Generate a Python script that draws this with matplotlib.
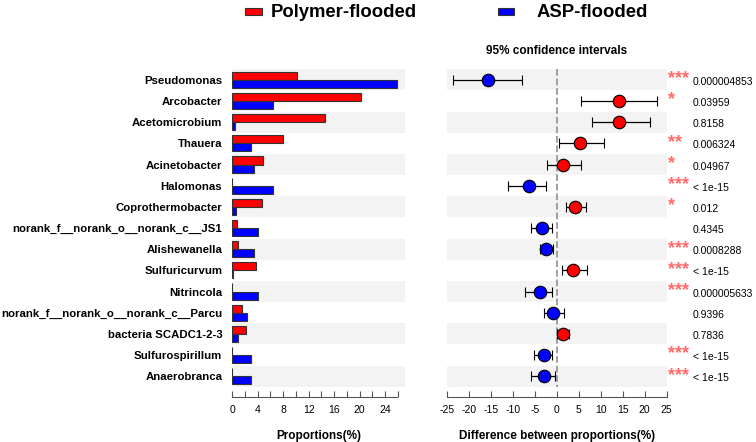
import numpy as np
import matplotlib.pyplot as plt
from matplotlib.patches import Rectangle

plt.rcParams['font.family'] = ['Liberation Sans', 'DejaVu Sans']
plt.rcParams['axes.unicode_minus'] = False

# 数据
genera = ['Pseudomonas', 'Arcobacter', 'Acetomicrobium', 'Thauera', 'Acinetobacter',
          'Halomonas', 'Coprothermobacter', 'norank_f__norank_o__norank_c__JS1',
          'Alishewanella', 'Sulfuricurvum', 'Nitrincola',
          'norank_f__norank_o__norank_c__Parcu', 'bacteria SCADC1-2-3',
          'Sulfurospirillum', 'Anaerobranca']
polymer = [10.2, 20.2, 14.5, 8.0, 4.8, 0.0, 4.7, 0.8, 1.0, 3.8, 0.0, 1.5, 2.2, 0.0, 0.0]
asp = [25.8, 6.4, 0.5, 2.9, 3.4, 6.4, 0.6, 4.1, 3.4, 0.2, 4.0, 2.4, 1.0, 2.9, 2.9]
diff = [-15.7, 14.1, 14.2, 5.2, 1.4, -6.2, 4.1, -3.3, -2.4, 3.6, -3.9, -0.9, 1.4, -2.9, -2.9]
ci_low = [-23.5, 5.6, 8.0, 0.45, -2.3, -11.0, 2.0, -5.9, -3.9, 1.1, -7.3, -3.0, 0.1, -5.2, -5.9]
ci_high = [-8.0, 22.8, 21.2, 10.7, 5.6, -2.4, 6.7, -1.1, -0.8, 6.9, -1.1, 1.7, 2.9, -1.0, -0.5]
stars = ['***', '*', '', '**', '*', '***', '*', '', '***', '***', '***', '', '', '***', '***']
pvals = ['0.000004853', '0.03959', '0.8158', '0.006324', '0.04967', '< 1e-15', '0.012',
         '0.4345', '0.0008288', '< 1e-15', '0.000005633', '0.9396', '0.7836',
         '< 1e-15', '< 1e-15']

red = '#ff0000'
blue = '#0000ff'
stripe = '#f3f3f3'

W, H = 756, 442
fig = plt.figure(figsize=(W / 100, H / 100), dpi=100)

top = 1 - 69.3 / H
bottom = 1 - 396.7 / H
n = len(genera)
y = np.arange(n)
ylim = (n - 0.5 + 0.47, -0.5)

# 左侧：比例条形图
ax1 = fig.add_axes([232 / W, bottom, (405 - 232) / W, top - bottom])
for i in range(0, n, 2):
    ax1.add_patch(Rectangle((0, i - 0.5), 27.1, 1, facecolor=stripe, edgecolor='none', zorder=0))
ax1.barh(y - 0.19, polymer, height=0.38, color=red, edgecolor='#333333', linewidth=0.8, zorder=2)
ax1.barh(y + 0.19, asp, height=0.38, color=blue, edgecolor='#333333', linewidth=0.8, zorder=2)
ax1.set_xlim(0, 27.1)
ax1.set_ylim(*ylim)
ax1.set_yticks(y)
ax1.set_yticklabels(genera, fontsize=8.2, fontweight='bold')
ax1.tick_params(axis='y', length=0, pad=7)
for s in ['top', 'right', 'left']:
    ax1.spines[s].set_visible(False)
ax1.spines['bottom'].set_bounds(0, 25.8)
ax1.spines['bottom'].set_color('#555555')
ax1.set_xticks(np.arange(0, 27, 2))
ax1.set_xticklabels([str(v) if v % 4 == 0 else '' for v in range(0, 27, 2)], fontsize=7.5)
ax1.tick_params(axis='x', direction='in', length=4, color='#555555', pad=6)
ax1.set_xlabel('Proportions(%)', fontsize=8.5, fontweight='bold', labelpad=11)

# 右侧：置信区间
ax2 = fig.add_axes([446.7 / W, bottom, (666.7 - 446.7) / W, top - bottom])
for i in range(0, n, 2):
    ax2.add_patch(Rectangle((-25, i - 0.5), 50, 1, facecolor=stripe, edgecolor='none', zorder=0))
ax2.plot([0, 0], [-0.5, n - 0.5], color='#999999', linestyle='--', linewidth=1.3, zorder=1)
for i in range(n):
    c = red if diff[i] > 0 else blue
    ax2.errorbar(diff[i], i, xerr=[[diff[i] - ci_low[i]], [ci_high[i] - diff[i]]],
                 fmt='o', color='black', ecolor='black', elinewidth=0.9, capsize=3.5,
                 capthick=0.9, markersize=9, markerfacecolor=c, markeredgecolor='black',
                 markeredgewidth=0.8, zorder=3)
    ax2.text(25.2, i - 0.05, stars[i], color='#ff6b6b', fontsize=13, fontweight='bold',
             ha='left', va='center')
    ax2.text(30.9, i + 0.1, pvals[i], fontsize=7.5, ha='left', va='center')
ax2.set_xlim(-25, 25)
ax2.set_ylim(*ylim)
ax2.set_yticks([])
for s in ['top', 'right', 'left']:
    ax2.spines[s].set_visible(False)
ax2.spines['bottom'].set_color('#555555')
ax2.set_xticks(np.arange(-25, 26, 5))
ax2.tick_params(axis='x', direction='in', length=4, color='#555555', pad=6, labelsize=7.5)
ax2.set_xlabel('Difference between proportions(%)', fontsize=8.5, fontweight='bold', labelpad=11)
ax2.set_title('95% confidence intervals', fontsize=8.5, fontweight='bold', pad=11)

# 图例
fig.patches.append(Rectangle((245 / W, 1 - 15 / H), 17 / W, 6.7 / H, transform=fig.transFigure,
                             facecolor=red, edgecolor='#333333', linewidth=0.8))
fig.text(271 / W, 1 - 12.5 / H, 'Polymer-flooded', fontsize=13.3, fontweight='bold', va='center')
fig.patches.append(Rectangle((497.7 / W, 1 - 15 / H), 16.6 / W, 6.7 / H, transform=fig.transFigure,
                             facecolor=blue, edgecolor='#333333', linewidth=0.8))
fig.text(536.7 / W, 1 - 12.5 / H, 'ASP-flooded', fontsize=13.3, fontweight='bold', va='center')

fig.savefig('out.png', dpi=100)
